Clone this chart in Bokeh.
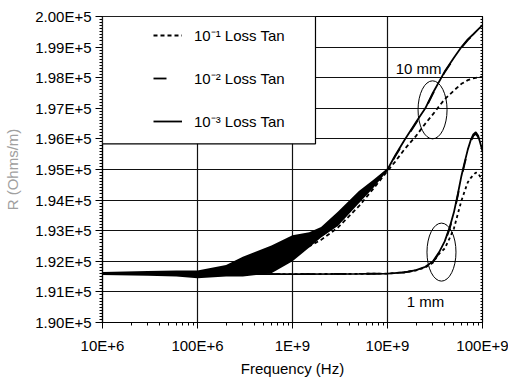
from bokeh.plotting import figure
from bokeh.models import (FixedTicker, CustomJSTickFormatter, LinearAxis, Legend, LegendItem,
                          BoxAnnotation)
from bokeh.core.properties import value
from bokeh.embed import file_html
from bokeh.resources import INLINE

FONT = "Liberation Sans"

# ---------------- data ----------------
# 10 mm line, frequencies in Hz, R in Ohm/m
f_10mm = [10e6, 20e6, 50e6, 100e6, 200e6, 500e6, 1e9, 2e9, 3e9, 5e9, 7e9, 10e9, 12e9, 15e9,
          20e9, 25e9, 30e9, 40e9, 50e9, 60e9, 70e9, 80e9, 90e9, 100e9]
r_10mm_tan3 = [191600, 191600, 191600, 191580, 191700, 192000, 192420, 192950, 193380, 194100,
               194550, 195000, 195450, 195950, 196550, 197000, 197500, 198200, 198650, 199000,
               199250, 199420, 199580, 199720]
r_10mm_tan2 = [191600, 191600, 191600, 191580, 191700, 192000, 192420, 192950, 193380, 194100,
               194550, 194990, 195420, 195920, 196520, 196980, 197470, 198180, 198630, 198980,
               199230, 199400, 199560, 199700]
r_10mm_tan1 = [191600, 191600, 191600, 191580, 191680, 191950, 192200, 192700, 193100, 193800,
               194350, 194950, 195250, 195650, 196100, 196500, 196800, 197300, 197580, 197800,
               197920, 197980, 198010, 198030]

# noisy band of the 10 mm traces
f_band = [10e6, 30e6, 60e6, 100e6, 200e6, 300e6, 600e6, 1e9, 1.5e9, 2e9, 3e9, 5e9, 7e9, 10e9]
band_lo = [191550, 191530, 191500, 191450, 191500, 191500, 191610, 192000, 192450, 192780,
           193150, 193900, 194380, 194960]
band_hi = [191650, 191680, 191700, 191700, 191880, 192150, 192520, 192850, 192950, 193120,
           193620, 194300, 194650, 195040]

# 1 mm line
f_1mm = [10e6, 100e6, 1e9, 5e9, 10e9, 15e9, 20e9, 25e9, 30e9, 35e9, 40e9, 45e9, 50e9, 55e9,
         60e9, 65e9, 70e9, 75e9, 80e9, 85e9, 90e9, 95e9, 100e9]
r_1mm_tan3 = [191580, 191580, 191580, 191590, 191600, 191640, 191710, 191820, 191990, 192300,
              192650, 193100, 193600, 194200, 194790, 195250, 195650, 195950, 196150, 196220,
              196100, 195850, 195600]
r_1mm_tan2 = [191580, 191580, 191580, 191590, 191600, 191640, 191700, 191800, 191970, 192270,
              192620, 193060, 193560, 194150, 194740, 195200, 195600, 195900, 196100, 196170,
              196060, 195820, 195580]
r_1mm_tan1 = [191580, 191580, 191580, 191590, 191600, 191640, 191700, 191800, 191950, 192250,
              192420, 192750, 193070, 193550, 193980, 194300, 194580, 194720, 194820, 194900,
              194880, 194750, 194600]

x_ticks = [1e7, 1e8, 1e9, 1e10, 1e11]
x_tick_labels = ["10E+6", "100E+6", "1E+9", "10E+9", "100E+9"]
y_ticks = [190000 + 1000 * i for i in range(11)]

legend_labels = ["10\u207b\u00b9 Loss Tan", "10\u207b\u00b2 Loss Tan", "10\u207b\u00b3 Loss Tan"]

# ---------------- figure ----------------
p = figure(width=508, height=379, x_axis_type="log", x_range=(1e7, 1e11),
           y_range=(190000, 200000), output_backend="svg", toolbar_location=None,
           min_border_left=102, min_border_right=26, min_border_top=16, min_border_bottom=54)
p.background_fill_color = "white"
p.border_fill_color = "white"
p.outline_line_color = "black"
p.outline_line_width = 1.2

x_minor = [m * d for d in [1e7, 1e8, 1e9, 1e10] for m in range(2, 10)]
y_minor = [190000 + 100 * i for i in range(101)]
p.xaxis.ticker = FixedTicker(ticks=x_ticks, minor_ticks=x_minor)
p.xaxis.major_label_overrides = {t: l for t, l in zip(x_ticks, x_tick_labels)}
p.yaxis.ticker = FixedTicker(ticks=y_ticks, minor_ticks=y_minor)
p.yaxis.formatter = CustomJSTickFormatter(code="return tick.toExponential(2).toUpperCase();")

for ax in (p.xaxis[0], p.yaxis[0]):
    ax.axis_line_color = "black"
    ax.axis_line_width = 1.2
    ax.major_tick_line_color = "black"
    ax.minor_tick_line_color = "black"
    ax.major_tick_in = 0
    ax.minor_tick_in = 0
    ax.major_label_text_font = FONT
    ax.major_label_text_font_size = "15px"
    ax.major_label_text_color = "black"
    ax.axis_label_text_font = FONT
    ax.axis_label_text_font_size = "15px"
    ax.axis_label_text_font_style = "normal"

p.xaxis.major_tick_out = 6
p.xaxis.minor_tick_out = 3
p.xaxis.major_label_standoff = 8
p.xaxis.axis_label = "Frequency (Hz)"
p.xaxis.axis_label_standoff = 3
p.xaxis.axis_label_text_color = "black"

p.yaxis.major_tick_out = 7
p.yaxis.minor_tick_out = 3
p.yaxis.major_label_standoff = 4
p.yaxis.axis_label = "R (Ohms/m)"
p.yaxis.axis_label_standoff = 11
p.yaxis.axis_label_text_color = "#a0a0a0"

# right-hand axis: only small inward ticks, no labels
right = LinearAxis(ticker=FixedTicker(ticks=[], minor_ticks=y_minor),
                   major_label_standoff=0, major_tick_in=0, major_tick_out=0,
                   minor_tick_in=2, minor_tick_out=0, axis_line_color="black")
p.add_layout(right, "right")

p.xgrid.grid_line_color = "#111111"
p.ygrid.grid_line_color = "#111111"
p.xgrid.grid_line_width = 1.2
p.ygrid.grid_line_width = 1.2

# ---------------- data marks ----------------
p.varea(x=f_band, y1=band_lo, y2=band_hi, fill_color="black")

lw = 1.8
r10_3 = p.line(f_10mm, r_10mm_tan3, line_color="black", line_width=lw)
r10_2 = p.line(f_10mm, r_10mm_tan2, line_color="black", line_width=lw, line_dash="13 20")
r10_1 = p.line(f_10mm, r_10mm_tan1, line_color="black", line_width=lw, line_dash="4 3")
p.line(f_1mm, r_1mm_tan3, line_color="black", line_width=lw)
p.line(f_1mm, r_1mm_tan2, line_color="black", line_width=lw, line_dash="13 20")
p.line(f_1mm, r_1mm_tan1, line_color="black", line_width=lw, line_dash="3 3")

# annotations
p.ellipse(x=[29.8e9], y=[196950], width=29, height=58, width_units="screen",
          height_units="screen", fill_alpha=0, line_color="black", line_width=1)
p.ellipse(x=[37.0e9], y=[192300], width=29, height=58, width_units="screen",
          height_units="screen", fill_alpha=0, line_color="black", line_width=1)
p.text(x=[12.2e9], y=[198290], text=["10 mm"], text_font=value(FONT), text_font_size="15px",
       text_align="left", text_baseline="middle", text_color="black")
p.text(x=[15.96e9], y=[190670], text=["1 mm"], text_font=value(FONT), text_font_size="15px",
       text_align="left", text_baseline="middle", text_color="black")

# legend box and legend
box = BoxAnnotation(left=1e7, right=1.746e9, top=200000, bottom=195838, fill_color="white",
                    fill_alpha=1, line_color="black", line_width=1.2, line_alpha=1)
p.add_layout(box)

legend = Legend(items=[LegendItem(label=legend_labels[0], renderers=[r10_1]),
                       LegendItem(label=legend_labels[1], renderers=[r10_2]),
                       LegendItem(label=legend_labels[2], renderers=[r10_3])],
                location=(51, 191), padding=0, margin=0, border_line_alpha=0,
                background_fill_alpha=0, glyph_width=29, glyph_height=20, label_height=20,
                spacing=23, label_standoff=12, label_text_font=FONT,
                label_text_font_size="15px", label_text_color="black")
p.add_layout(legend)

open("out.html", "w").write(file_html(p, INLINE))
